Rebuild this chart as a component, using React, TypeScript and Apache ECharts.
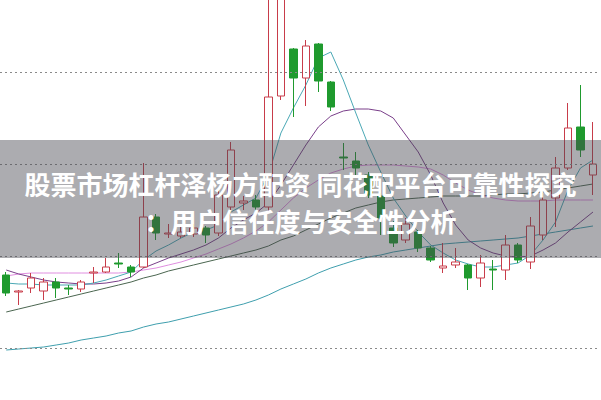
import React, { useEffect, useRef } from "react";
import * as echarts from "echarts";

const categories = [
  "D01", "D02", "D03", "D04", "D05", "D06", "D07", "D08", "D09", "D10",
  "D11", "D12", "D13", "D14", "D15", "D16", "D17", "D18", "D19", "D20",
  "D21", "D22", "D23", "D24", "D25", "D26", "D27", "D28", "D29", "D30",
  "D31", "D32", "D33", "D34", "D35", "D36", "D37", "D38", "D39", "D40",
  "D41", "D42", "D43", "D44", "D45", "D46", "D47", "D48",
];

// [open, close, low, high]
const candles: number[][] = [
  [8.09, 7.91, 7.88, 8.12], [7.92, 7.93, 7.79, 7.94], [7.96, 8.06, 7.91, 8.11], [7.93, 8.02, 7.84, 8.06],
  [8.02, 7.96, 7.86, 8.06], [7.96, 7.95, 7.89, 7.99], [7.95, 8.02, 7.92, 8.04], [8.11, 8.12, 8.01, 8.17],
  [8.12, 8.17, 8.11, 8.26], [8.21, 8.20, 8.16, 8.31], [8.17, 8.12, 8.07, 8.19], [8.17, 8.67, 8.16, 9.21],
  [8.67, 8.51, 8.44, 8.70], [8.50, 8.51, 8.46, 8.60], [8.48, 8.52, 8.46, 8.57], [8.50, 8.56, 8.47, 8.60],
  [8.56, 8.49, 8.41, 8.58], [8.51, 8.89, 8.48, 8.94], [8.77, 9.34, 8.72, 9.42], [8.81, 8.83, 8.74, 8.88],
  [8.84, 8.77, 8.69, 8.89], [8.77, 9.87, 8.72, 10.94], [9.88, 10.94, 9.84, 11.04], [10.35, 10.06, 9.67, 10.36],
  [10.06, 10.38, 9.78, 10.44], [10.40, 10.03, 9.92, 10.41], [10.02, 9.77, 9.73, 10.03], [9.27, 9.26, 9.14, 9.41],
  [9.23, 9.16, 9.06, 9.32], [9.09, 8.89, 8.86, 9.12], [8.88, 8.66, 8.49, 8.91], [8.56, 8.41, 8.37, 8.63],
  [8.44, 8.60, 8.41, 8.66], [8.52, 8.36, 8.32, 8.54], [8.36, 8.24, 8.22, 8.38], [8.16, 8.18, 8.11, 8.41],
  [8.19, 8.22, 8.16, 8.36], [8.19, 8.06, 7.94, 8.20], [8.06, 8.21, 7.97, 8.29], [8.15, 8.14, 7.94, 8.24],
  [8.14, 8.39, 8.04, 8.49], [8.39, 8.24, 8.21, 8.41], [8.22, 8.58, 8.15, 8.67], [8.49, 8.84, 8.44, 8.91],
  [8.86, 9.16, 8.57, 9.27], [9.16, 9.56, 9.14, 9.81], [9.57, 9.34, 9.27, 9.99], [9.09, 9.20, 8.89, 9.62],
];

const ma5 = [
  8.01, 8.00, 8.00, 7.99, 7.99, 7.99, 7.99, 8.01, 8.04, 8.08, 8.12, 8.24, 8.33, 8.39, 8.46, 8.52,
  8.54, 8.59, 8.72, 8.79, 8.86, 9.09, 9.51, 9.76, 9.99, 10.26, 10.32, 10.04, 9.71, 9.39, 9.12, 8.86,
  8.68, 8.52, 8.39, 8.31, 8.24, 8.20, 8.17, 8.17, 8.19, 8.21, 8.29, 8.44, 8.62, 8.94, 9.16, 9.24,
];
const ma10 = [
  8.14, 8.10, 8.07, 8.04, 8.02, 8.01, 8.00, 8.00, 8.01, 8.03, 8.07, 8.16, 8.21, 8.26, 8.30, 8.34,
  8.39, 8.46, 8.56, 8.64, 8.71, 8.81, 8.99, 9.19, 9.39, 9.57, 9.68, 9.73, 9.75, 9.75, 9.73, 9.66,
  9.49, 9.32, 9.09, 8.81, 8.59, 8.44, 8.36, 8.31, 8.28, 8.27, 8.28, 8.34, 8.41, 8.52, 8.62, 8.72,
];
const ma20 = [
  8.08, 8.10, 8.11, 8.11, 8.11, 8.11, 8.11, 8.11, 8.11, 8.11, 8.12, 8.14, 8.16, 8.19, 8.22, 8.26,
  8.30, 8.35, 8.40, 8.46, 8.53, 8.62, 8.74, 8.86, 8.96, 9.04, 9.11, 9.15, 9.18, 9.19, 9.19, 9.19,
  9.18, 9.17, 9.15, 9.09, 9.01, 8.94, 8.89, 8.86, 8.84, 8.83, 8.83, 8.83, 8.84, 8.84, 8.84, 8.84,
];
const ma30 = [
  7.72, 7.75, 7.78, 7.81, 7.84, 7.87, 7.90, 7.93, 7.96, 7.99, 8.02, 8.06, 8.09, 8.13, 8.16, 8.19,
  8.22, 8.25, 8.28, 8.31, 8.34, 8.38, 8.44, 8.48, 8.54, 8.60, 8.66, 8.71, 8.76, 8.79, 8.82, 8.84,
  8.85, 8.86, 8.87, 8.88, 8.88, 8.88, 8.88, 8.89, 8.90, 8.90, 8.91, 8.92, 8.94, 8.96, 8.98, 9.00,
];
const ma60 = [
  7.34, 7.35, 7.36, 7.37, 7.39, 7.41, 7.44, 7.46, 7.48, 7.51, 7.53, 7.57, 7.60, 7.62, 7.65, 7.68,
  7.71, 7.74, 7.77, 7.80, 7.84, 7.89, 7.95, 8.00, 8.05, 8.11, 8.16, 8.20, 8.24, 8.27, 8.29, 8.32,
  8.34, 8.36, 8.38, 8.40, 8.41, 8.42, 8.43, 8.44, 8.45, 8.46, 8.48, 8.50, 8.52, 8.54, 8.56, 8.58,
];

const gridLevels = [7.36, 8.28, 9.2, 10.12];
const priceRange = [6.84, 10.84];

const titleLines = [
  "股票市场杠杆泽杨方配资 同花配平台可靠性探究",
  "：用户信任度与安全性分析",
];

export default function App() {
  const ref = useRef<HTMLDivElement>(null);
  useEffect(() => {
    if (!ref.current) return;
    const chart = echarts.init(ref.current, undefined, { renderer: "svg" });
    const line = (name: string, data: number[], color: string) => ({
      name,
      type: "line",
      data,
      symbol: "none",
      smooth: false,
      lineStyle: { color, width: 1 },
      z: 3,
    });
    chart.setOption({
      animation: false,
      backgroundColor: "#ffffff",
      grid: { left: -1.26, right: 1.76, top: 0, bottom: 0 },
      xAxis: {
        type: "category",
        data: categories,
        boundaryGap: true,
        axisLine: { show: false },
        axisTick: { show: false },
        axisLabel: { show: false },
        splitLine: { show: false },
      },
      yAxis: {
        type: "value",
        min: priceRange[0],
        max: priceRange[1],
        axisLine: { show: false },
        axisTick: { show: false },
        axisLabel: { show: false },
        splitLine: { show: false },
      },
      series: [
        {
          ...line("MA60", ma60, "#3f9fae"),
          markLine: {
            silent: true,
            symbol: ["none", "none"],
            label: { show: false },
            lineStyle: { color: "#8a8a8a", type: [2, 3], width: 1 },
            data: gridLevels.map((v) => ({ yAxis: v })),
          },
        },
        line("MA30", ma30, "#4b6650"),
        line("MA20", ma20, "#e08ee0"),
        line("MA10", ma10, "#7a3f8a"),
        line("MA5", ma5, "#4aa8b5"),
        {
          name: "K",
          type: "candlestick",
          data: candles,
          barWidth: 8,
          z: 4,
          itemStyle: {
            color: "#ffffff",
            color0: "#1f9a2e",
            borderColor: "#c83c4a",
            borderColor0: "#1f9a2e",
            borderWidth: 1,
          },
        },
      ],
      graphic: [
        {
          type: "rect",
          z: 100,
          shape: { x: 0, y: 140, width: 601, height: 118 },
          style: { fill: "rgba(70,70,80,0.45)" },
        },
        {
          type: "text",
          z: 101,
          x: 300.5,
          y: 183,
          style: {
            text: titleLines[0],
            fill: "#ffffff",
            font: "bold 26px 'Noto Sans CJK SC', sans-serif",
            textAlign: "center",
            textVerticalAlign: "middle",
          },
        },
        {
          type: "text",
          z: 101,
          x: 300.5,
          y: 220,
          style: {
            text: titleLines[1],
            fill: "#ffffff",
            font: "bold 26px 'Noto Sans CJK SC', sans-serif",
            textAlign: "center",
            textVerticalAlign: "middle",
          },
        },
      ],
    });
    return () => chart.dispose();
  }, []);
  return (
    <div
      ref={ref}
      style={{ position: "fixed", left: 0, top: 0, width: 601, height: 400, background: "#fff" }}
    />
  );
}
